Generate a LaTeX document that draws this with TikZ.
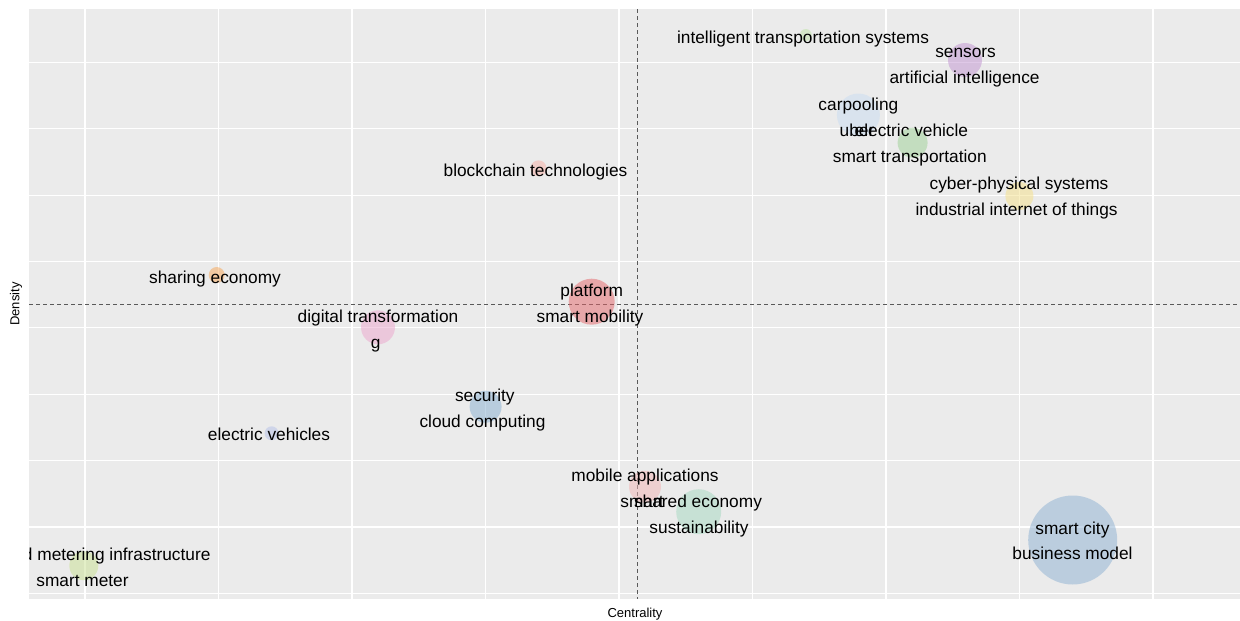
\documentclass[tikz,border=0pt]{standalone}
\usepackage{fontspec}
\setmainfont{Liberation Sans}
\usetikzlibrary{backgrounds}

\definecolor{panel}{RGB}{235,235,235}
\definecolor{cIts}{RGB}{191,229,165}
\definecolor{cSens}{RGB}{193,147,209}
\definecolor{cCar}{RGB}{201,221,241}
\definecolor{cEv}{RGB}{157,209,149}
\definecolor{cBlock}{RGB}{245,175,165}
\definecolor{cCps}{RGB}{245,225,135}
\definecolor{cShare}{RGB}{245,165,85}
\definecolor{cPlat}{RGB}{229,101,105}
\definecolor{cDig}{RGB}{235,165,205}
\definecolor{cSec}{RGB}{135,175,209}
\definecolor{cEvs}{RGB}{181,193,233}
\definecolor{cMob}{RGB}{241,181,181}
\definecolor{cShd}{RGB}{165,217,193}
\definecolor{cCity}{RGB}{141,177,211}
\definecolor{cMeter}{RGB}{201,225,145}

\begin{document}
\begin{tikzpicture}[x=1pt,y=-1pt,
    grid/.style={white, line width=1.1pt},
    quadrant/.style={black!65, line width=0.9pt, dash pattern=on 4pt off 3pt},
    bubble/.style={circle, inner sep=0pt, draw=none, fill opacity=0.5},
    lbl/.style={font=\fontsize{17.3}{20}\selectfont, text=black, inner sep=0pt, text height=12.4pt, text depth=3.6pt},
    axis/.style={font=\fontsize{13}{15}\selectfont, inner sep=0pt}]
%      \draw [help lines, opacity=0] (0,0) grid (1240,621);
      \useasboundingbox (0,0) rectangle (1240,621);
      \fill [panel] (29,9) rectangle (1240,599);

      \begin{scope}
      \clip (29,9) rectangle (1240,599);
      \foreach \x in {0,1,...,8} \draw [grid] ({85+133.5*\x},9) -- ({85+133.5*\x},599);
      \foreach \y in {0,1,...,8} \draw [grid] (29,{62.5+66.35*\y}) -- (1240,{62.5+66.35*\y});

      \draw [quadrant] (637,9) -- (637,599);
      \draw [quadrant] (29,304) -- (1240,304);

      % clusters
      \foreach \n/\x/\y/\d/\c in {its/805.8/35/12/cIts, sens/965/60/34/cSens, car/858.4/115/43/cCar,
          ev/912.6/142.7/30/cEv, block/538.5/168.3/16/cBlock, cps/1019.4/196/28/cCps,
          share/216.7/275/16/cShare, plat/591.7/301.7/46/cPlat, dig/378/327.3/34/cDig,
          sec/485.6/406.7/32/cSec, evs/271.6/433.3/14/cEvs, mob/645/486.7/32/cMob,
          shd/698.7/511.7/45/cShd, city/1072.7/540/89/cCity, meter/83.8/565.7/29/cMeter}
        \node [bubble, fill=\c, minimum size=\d pt] (b-\n) at (\x,\y) {};

      % labels
      \foreach \n/\x/\y/\t in {its/803/39.3/intelligent transportation systems,
          sens1/965.6/53.3/sensors, sens2/964.6/79.3/artificial intelligence,
          car1/858.4/106.3/carpooling, car2/857/132.3/uber,
          ev1/911.4/132.3/electric vehicle, ev2/909.8/158/smart transportation,
          block/535.5/172/blockchain technologies,
          cps1/1019/185/cyber-physical systems, cps2/1016.6/211.3/industrial internet of things,
          share/215/278.7/sharing economy,
          plat1/591.7/291.7/platform, plat2/590/318/smart mobility,
          dig1/378/318/digital transformation, dig2/375.6/344.3/g,
          sec1/484.8/397.3/security, sec2/482.5/423.3/cloud computing,
          evs/269/436.3/electric vehicles,
          mob1/645/477/mobile applications, mob2/642/503.3/smart,
          shd1/698/503/shared economy, shd2/699/529.3/sustainability,
          city1/1072.4/530.3/smart city, city2/1072.5/555.3/business model,
          meter1/84/556.3/advanced metering infrastructure, meter2/82.5/582/smart meter}
        \node [lbl] (l-\n) at (\x,\y) {\t};
      \end{scope}

      \node [axis] (xlab) at (635,614) {Centrality};
      \node [axis, rotate=90] (ylab) at (16,304) {Density};
\end{tikzpicture}
\end{document}
